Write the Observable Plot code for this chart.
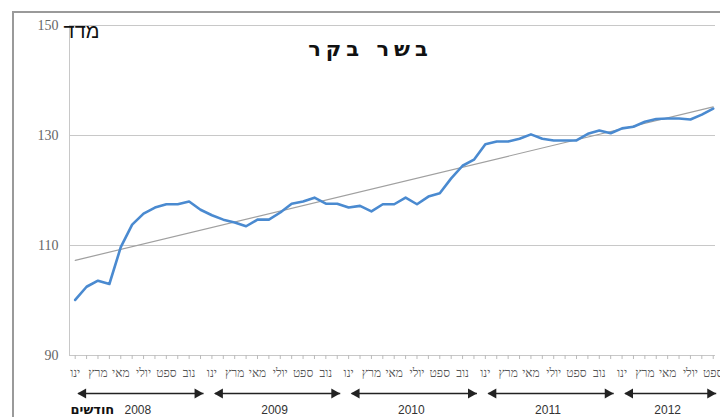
<!DOCTYPE html>
<html><head><meta charset="utf-8">
<script src="https://cdn.jsdelivr.net/npm/d3@7"></script>
<script src="https://cdn.jsdelivr.net/npm/@observablehq/plot@0.6"></script>
<style>
body{margin:0;background:#fff;}
#wrap{position:relative;width:720px;height:417px;overflow:hidden;}
#border{position:absolute;left:12px;top:11px;width:720px;height:420px;border-left:2px solid #9a9a9a;border-top:2px solid #9a9a9a;pointer-events:none;}
</style></head>
<body><div id="wrap"><div id="border"></div></div>
<script>
const title = "בשר בקר";
const yLabel = "מדד";
const xLabel = "חודשים";
const startYear = 2008;
const monthNames = ["ינו","פבר","מרץ","אפר","מאי","יוני","יולי","אוג","ספט","אוק","נוב","דצמ"];
const shownMonths = ["ינו","מרץ","מאי","יולי","ספט","נוב"];
const values = [100.1,102.5,103.6,103.0,109.7,113.8,115.8,116.9,117.5,117.5,
  118.0,116.5,115.5,114.7,114.2,113.5,114.7,114.7,116.0,117.6,
  118.0,118.7,117.6,117.6,116.9,117.2,116.2,117.5,117.5,118.7,
  117.5,118.9,119.5,122.2,124.5,125.6,128.4,128.9,128.9,129.4,
  130.2,129.4,129.1,129.1,129.1,130.3,130.9,130.4,131.3,131.6,
  132.5,133.0,133.1,133.1,132.9,133.8,134.9];
const trendValues = [107.3, 135.2];
const yTicks = [90, 110, 130, 150];

const data = values.map((v, i) => ({i, v, year: startYear + Math.floor(i / 12), month: monthNames[i % 12]}));
const trend = [{i: 0, v: trendValues[0]}, {i: values.length - 1, v: trendValues[1]}];
const years = Array.from(new Set(data.map(d => d.year)));
const spans = years.map(y => {
  const rows = data.filter(d => d.year === y);
  return {year: y, start: rows[0].i, end: rows[rows.length - 1].i};
});
const xDomain = [-0.5, values.length - 1 + 0.2];
const yMin = yTicks[0], yMax = yTicks[yTicks.length - 1];

const chart = Plot.plot({
  width: 720, height: 417,
  marginLeft: 69, marginRight: 5, marginTop: 25, marginBottom: 62,
  style: {background: "transparent"},
  x: {domain: xDomain, axis: null},
  y: {domain: [yMin, yMax], axis: null},
  marks: [
    Plot.gridY(yTicks, {stroke: "#c8c8c8", strokeOpacity: 1}),
    Plot.ruleX([xDomain[0]], {y1: yMin, y2: yMax, stroke: "#c8c8c8"}),
    Plot.axisY({ticks: yTicks, tickSize: 0, tickPadding: 11, fontFamily: "Liberation Serif", fontSize: 14, fill: "#666", label: null}),
    Plot.axisX({ticks: data.map(d => d.i), tickSize: 4, tickPadding: 9, stroke: "#bbb", fill: "#555",
      fontFamily: "Liberation Serif", fontSize: 12, label: null,
      tickFormat: i => shownMonths.includes(monthNames[i % 12]) ? monthNames[i % 12] : ""}),
    Plot.line(trend, {x: "i", y: "v", stroke: "#a0a0a0", strokeWidth: 1.2}),
    Plot.line(data, {x: "i", y: "v", stroke: "#4a8ad0", strokeWidth: 2.6}),
    Plot.text([yLabel], {frameAnchor: "top-left", dx: 12, dy: -2, fontSize: 20, fontFamily: "Liberation Sans", fill: "#111", textAnchor: "middle"}),
    Plot.text([title], {frameAnchor: "top", dx: -22, dy: 16, fontSize: 21, fontWeight: "bold", fontFamily: "DejaVu Sans", fill: "#111"}),
    Plot.text([xLabel], {frameAnchor: "bottom-left", dx: 1, dy: 58, fontSize: 13, fontWeight: "bold", fontFamily: "DejaVu Sans", fill: "#111"}),
    Plot.link(spans, {x1: "start", x2: "end", y1: () => yMin, y2: () => yMin, dy: 38, dx: 3, stroke: "#222", strokeWidth: 1.6}),
    Plot.dot(spans, {x: "start", y: () => yMin, dy: 38, dx: 8, symbol: "triangle", rotate: -90, r: 3.8, fill: "#222", stroke: "none"}),
    Plot.dot(spans, {x: "end", y: () => yMin, dy: 38, dx: -3, symbol: "triangle", rotate: 90, r: 3.8, fill: "#222", stroke: "none"}),
    Plot.text(spans, {x: d => (d.start + d.end) / 2, frameAnchor: "bottom", dy: 58, text: d => String(d.year), fontSize: 12, fontFamily: "Liberation Sans", fill: "#333"})
  ]
});
d3.select(chart).selectAll("text").filter(function() { return this.textContent === title; }).style("letter-spacing", "5px");
document.getElementById("wrap").prepend(chart);
</script>
</body></html>
